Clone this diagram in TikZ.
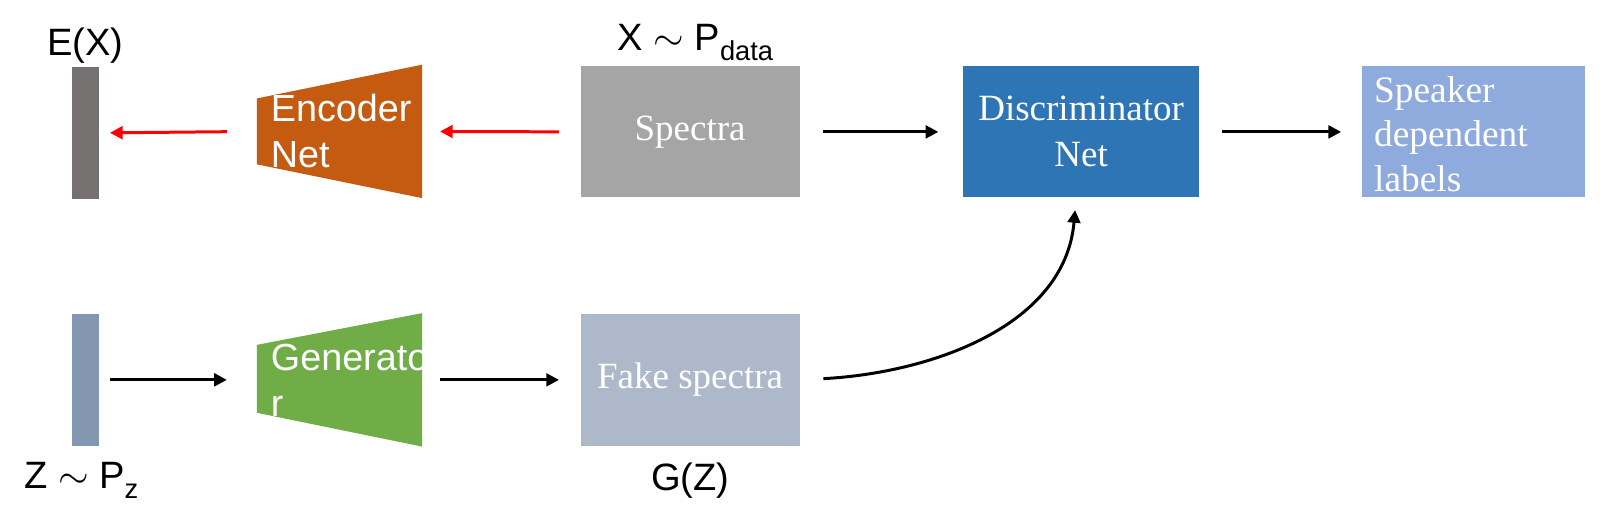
\documentclass[tikz,border=0pt]{standalone}
\usepackage{fontspec}
\setmainfont{Liberation Serif}
\setsansfont{Liberation Sans}
\usetikzlibrary{positioning,calc,arrows.meta}

\definecolor{encgray}{HTML}{767171}
\definecolor{encorange}{HTML}{C55A11}
\definecolor{specgray}{HTML}{A5A5A5}
\definecolor{discblue}{HTML}{2E75B6}
\definecolor{spklight}{HTML}{8FAADC}
\definecolor{zblue}{HTML}{8497B0}
\definecolor{gengreen}{HTML}{70AD47}
\definecolor{fakegray}{HTML}{ADB9CA}

\newcommand{\lowsub}[1]{\raisebox{-0.5ex}{\fontsize{7.6}{8}\selectfont #1}}

\begin{document}
\begin{tikzpicture}[x=0.01cm, y=-0.01cm, scale=1.0223, transform shape,
    block/.style={rectangle, minimum width=2.14cm, minimum height=1.28cm, inner sep=0pt, text=white, font=\fontsize{10.3}{12.8}\selectfont, align=center}, % cajas con texto
    bar/.style={rectangle, minimum width=0.27cm, minimum height=1.29cm, inner sep=0pt}, % vectores latentes
    net/.style={rectangle, minimum width=1.6cm, minimum height=1.29cm, inner sep=0pt},
    nettext/.style={anchor=west, text=white, align=left, font=\sffamily\fontsize{10.5}{12.8}\selectfont, inner sep=0pt},
    lbl/.style={font=\sffamily\fontsize{10.6}{12}\selectfont, inner sep=0pt},
    flow/.style={draw=black, line width=0.85pt, -{Triangle[length=3.6pt,width=3.6pt]}},
    back/.style={flow, draw=red}
  ]
    \useasboundingbox (0,0) rectangle (1568,512.6);

    % Top row
    \node [bar, fill=encgray] (ebar) at (83.5,130) {};
    \node [net] (enc) at (332,128.5) {};
    \fill [encorange] ($(enc.north west)+(0,-0.33cm)$) -- (enc.north east) -- (enc.south east) -- ($(enc.south west)+(0,0.33cm)$) -- cycle;
    \node [nettext] (enctext) at ([xshift=0.13cm]enc.west) {Encoder\\Net};
    \node [block, fill=specgray] (spec) at (675,129) {Spectra};
    \node [block, fill=discblue, minimum width=2.31cm] (disc) at (1057.5,129) {Discriminator\\Net};
    \node [block, fill=spklight, minimum width=2.18cm] (spk) at (1441,129) {};
    \node [block, anchor=west, minimum width=0pt, minimum height=0pt, align=left, font=\fontsize{10.4}{12.4}\selectfont] (spktext) at ([xshift=0.12cm,yshift=-0.02cm]spk.west) {Speaker\\dependent\\labels};

    % Bottom row
    \node [bar, fill=zblue] (zbar) at (83.5,371.5) {};
    \node [net] (gen) at (332,371.5) {};
    \fill [gengreen] ($(gen.north west)+(0,-0.31cm)$) -- (gen.north east) -- (gen.south east) -- ($(gen.south west)+(0,0.33cm)$) -- cycle;
    \node [nettext] (gentext) at ([xshift=0.13cm]gen.west) {Generato\\r};
    \node [block, fill=fakegray, minimum height=1.29cm] (fake) at (675,371.5) {Fake spectra};

    % Labels
    \node [lbl, above=0.02cm of ebar] (exlbl) {E(X)};
    \node [lbl, above=0.04cm of spec, xshift=0.05cm] (xlbl) {X $\sim$ P\lowsub{data}};
    \node [lbl, below=0.15cm of zbar, xshift=-0.04cm] (zlbl) {Z $\sim$ P\lowsub{z}};
    \node [lbl, below=0.15cm of fake] (gzlbl) {G(Z)};

    % Connectors
    \draw [back, shorten <=0.3cm, shorten >=0.1cm] (enc.west) -- (ebar.east);
    \draw [back, shorten <=0.21cm, shorten >=0.18cm] (spec.west) -- (enc.east);
    \draw [flow, shorten <=0.23cm, shorten >=0.24cm] (spec.east) -- (disc.west);
    \draw [flow, shorten <=0.22cm, shorten >=0.2cm] (disc.east) -- (spk.west);
    \draw [flow, shorten <=0.1cm, shorten >=0.3cm] (zbar.east) -- (gen.west);
    \draw [flow, shorten <=0.18cm, shorten >=0.21cm] (gen.east) -- (fake.west);
    \draw [flow, shorten <=0.23cm, shorten >=0.12cm] (fake.east) to[out=3, in=-95] ([xshift=-0.05cm]disc.south);
\end{tikzpicture}
\end{document}
